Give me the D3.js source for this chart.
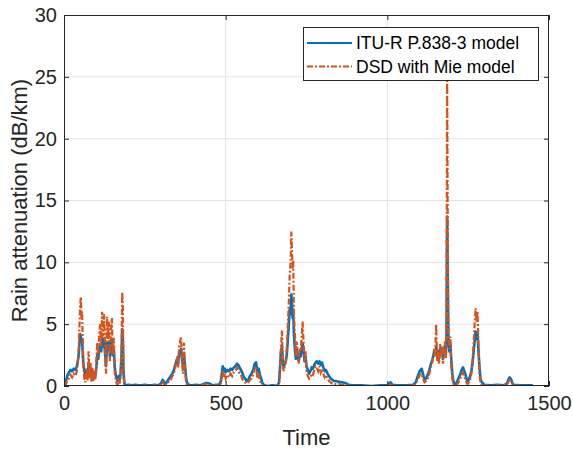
<!DOCTYPE html>
<html>
<head>
<meta charset="utf-8">
<script src="https://cdn.jsdelivr.net/npm/d3@7/dist/d3.min.js"></script>
<style>
  html, body { margin: 0; padding: 0; background: #fff; }
  svg { display: block; font-family: "Liberation Sans", Arial, sans-serif; }
</style>
</head>
<body>
<svg id="chart" width="573" height="451"></svg>
<script>
// ---- Data ----
const xTicks = [0, 500, 1000, 1500];
const yTicks = [0, 5, 10, 15, 20, 25, 30];
const seriesNames = ["ITU-R P.838-3 model", "DSD with Mie model"];

const time = [
  0,5,10,15,20,25,30,35,40,45,48,50,52,54,56,58,60,63,66,70,73,76,79,82,85,88,91,94,97,
  100,103,106,109,112,115,118,121,124,127,130,133,136,139,142,145,148,151,154,157,160,163,166,169,172,175,178,180,182,184,187,190,
  200,210,220,230,240,250,260,270,280,290,300,305,310,315,320,325,330,335,340,345,350,353,356,359,362,365,368,371,374,377,380,385,395,
  410,420,430,440,450,460,470,480,485,488,491,494,497,500,505,510,515,520,525,530,535,539,543,547,551,555,560,565,570,575,580,585,590,594,598,
  602,606,610,614,620,630,645,660,665,668,671,674,677,680,683,686,689,692,695,698,701,703,705,707,709,711,714,717,720,723,726,729,732,735,738,741,744,747,750,754,758,762,766,770,774,778,782,786,790,794,798,
  802,806,810,815,820,825,830,835,840,850,860,870,880,890,920,950,980,1000,1010,1015,1030,1060,1080,1088,1094,
  1100,1106,1110,1115,1120,1125,1130,1135,1140,1145,1148,1151,1154,1157,1160,1163,1166,1169,1172,1175,1178,1181,1183,1185,1187,1189,1192,1195,1198,
  1201,1204,1208,1215,1220,1225,1230,1234,1238,1242,1246,1250,1255,1260,1264,1267,1270,1273,1276,1279,1282,1285,1288,1292,
  1300,1320,1340,1360,1370,1374,1378,1382,1386,1390,1410,1430,1450
];

const ituModel = [
  0,0.3,0.8,1.1,1.3,1.2,1.4,1.3,1.6,2.4,3.5,4.2,4.0,3.6,3.8,2.6,1.8,1.2,0.9,1.3,0.8,1.7,1.0,1.4,0.8,1.2,0.7,1.0,0.8,
  1.5,2.5,2.2,3.0,3.4,2.8,3.9,3.2,3.8,2.6,1.6,3.5,3.0,3.6,2.4,3.2,3.8,2.5,2.9,1.5,0.9,0.6,0.4,0.8,0.5,1.0,2.5,4.6,3.8,1.2,0.2,0.05,
  0.1,0.05,0.1,0.05,0.05,0.1,0.05,0.05,0.1,0.05,0.2,0.5,0.3,0.2,0.4,0.6,0.8,1.0,1.3,1.8,2.2,1.8,2.6,2.8,3.0,2.2,1.5,2.5,1.8,0.8,0.3,0.1,0.05,
  0.1,0.05,0.15,0.25,0.2,0.05,0.1,0.1,0.4,1.0,1.6,1.2,1.4,1.1,1.3,1.2,1.4,1.3,1.5,1.6,1.8,1.7,1.5,1.3,1.1,0.8,0.6,0.4,0.5,0.8,1.0,1.3,1.8,1.9,1.2,
  1.4,0.9,0.6,0.2,0.05,0,0.05,0,0.3,1.5,2.8,3.2,1.8,1.6,1.8,2.0,2.5,3.6,4.8,6.2,5.8,7.4,6.8,5.5,6.0,4.2,3.0,2.2,3.0,2.4,2.0,2.6,2.4,3.0,3.4,2.8,2.0,2.4,1.6,1.3,1.0,1.2,1.5,1.4,1.7,1.9,2.0,1.8,2.0,1.7,1.9,
  1.5,1.2,1.3,1.0,0.8,0.6,0.5,0.4,0.4,0.35,0.3,0.25,0.1,0.05,0.05,0,0.05,0.05,0.3,0.1,0.05,0.05,0.1,0.3,0.8,
  1.2,1.4,1.0,0.5,0.6,0.9,1.3,1.8,2.2,2.8,2.5,3.2,2.4,2.8,2.2,3.0,2.6,3.0,2.2,2.7,3.2,2.6,4.0,13.7,8.0,3.6,2.8,3.4,2.0,
  1.0,0.4,0.1,0.3,0.6,0.9,1.3,1.5,1.2,0.9,0.5,0.4,0.7,1.2,2.0,2.8,3.6,4.4,3.8,4.2,2.8,1.5,0.6,0.3,
  0.1,0.05,0.1,0.05,0.2,0.5,0.7,0.6,0.3,0.1,0.05,0.05,0.05
];

const dsdMie = [
  0,0.1,0.4,0.6,0.9,0.7,1.0,0.8,1.2,2.5,5.0,6.5,7.2,5.5,6.0,3.5,1.5,0.6,0.3,1.4,0.4,2.8,0.6,1.9,0.3,1.5,0.4,1.2,0.5,
  2.0,3.5,2.4,4.2,5.0,3.2,6.0,4.0,5.8,2.5,1.0,5.6,3.8,5.2,2.0,4.5,5.5,2.6,3.9,1.0,0.5,0.2,0.1,0.6,0.2,0.8,3.0,7.6,6.5,0.8,0.05,0,
  0.05,0,0.05,0,0,0.05,0,0,0.05,0,0.1,0.3,0.1,0.1,0.2,0.4,0.5,0.8,1.0,1.6,2.4,1.5,3.2,3.6,4.0,2.0,1.0,3.5,1.6,0.4,0.1,0.05,0,
  0.05,0,0.1,0.15,0.1,0,0.05,0.05,0.2,0.7,1.3,0.7,1.0,0.6,0.9,0.7,1.0,0.8,1.1,1.2,1.5,1.3,1.0,0.9,0.6,0.4,0.3,0.2,0.3,0.5,0.6,0.9,1.4,1.6,0.6,
  1.0,0.4,0.2,0.05,0,0,0,0,0.2,1.0,3.0,4.5,1.5,1.2,1.6,2.0,3.0,4.8,6.5,9.0,10.0,12.5,11.0,9.5,10.2,6.0,4.2,2.4,3.6,2.5,1.8,3.0,2.8,4.0,5.2,3.5,2.0,2.8,1.2,0.8,0.6,0.7,1.0,0.9,1.3,1.6,1.5,1.2,1.6,1.1,1.4,
  1.0,0.7,0.9,0.6,0.4,0.3,0.2,0.2,0.15,0.15,0.1,0.1,0.05,0,0,0,0,0,0.1,0.05,0,0,0.05,0.2,0.5,
  0.9,1.0,0.6,0.3,0.4,0.6,1.0,1.6,2.0,3.0,2.4,5.0,2.0,2.8,1.8,3.4,2.5,3.2,1.8,2.6,3.6,2.2,5.5,25.0,12.0,4.0,3.0,4.0,1.6,
  0.6,0.2,0.05,0.1,0.3,0.6,0.9,1.1,0.8,0.5,0.2,0.2,0.4,1.0,2.2,3.5,5.0,6.3,5.2,6.0,3.2,1.0,0.3,0.1,
  0.05,0,0.05,0,0.1,0.3,0.5,0.4,0.2,0.05,0,0,0
];

// ---- Layout ----
const svg = d3.select("#chart");
const margin = { left: 64, right: 24, top: 15, bottom: 65 };
const W = 573, H = 451;
const x0 = margin.left, x1 = W - margin.right;
const y0 = H - margin.bottom, y1 = margin.top;

const x = d3.scaleLinear().domain([0, 1500]).range([x0, x1]);
const y = d3.scaleLinear().domain([0, 30]).range([y0, y1]);

const axisColor = "#262626";
const gridColor = "#e3e3e3";

// grid
svg.append("g").selectAll("line.gx").data(xTicks.slice(1, -1)).join("line")
  .attr("x1", d => x(d)).attr("x2", d => x(d)).attr("y1", y0).attr("y2", y1)
  .attr("stroke", gridColor).attr("stroke-width", 1);
svg.append("g").selectAll("line.gy").data(yTicks.slice(1, -1)).join("line")
  .attr("y1", d => y(d)).attr("y2", d => y(d)).attr("x1", x0).attr("x2", x1)
  .attr("stroke", gridColor).attr("stroke-width", 1);

// data lines
const pts = (vals) => time.map((t, i) => [t, vals[i]]);
const line = d3.line().x(d => x(d[0])).y(d => y(d[1]));

svg.append("clipPath").attr("id", "clip").append("rect")
  .attr("x", x0).attr("y", y1).attr("width", x1 - x0).attr("height", y0 - y1);

const dashPattern = "6,2,2,2";
const plotG = svg.append("g").attr("clip-path", "url(#clip)");
plotG.append("path").datum(pts(ituModel)).attr("d", line)
  .attr("fill", "none").attr("stroke", "#0072BD").attr("stroke-width", 2.6)
  .attr("stroke-linejoin", "round");
plotG.append("path").datum(pts(dsdMie)).attr("d", line)
  .attr("fill", "none").attr("stroke", "#D95319").attr("stroke-width", 2.2)
  .attr("stroke-dasharray", dashPattern);

// axes (box + ticks inward)
const tickFont = 20;
const xAxis = d3.axisBottom(x).tickValues(xTicks).tickSize(-5).tickPadding(10).tickFormat(d3.format("d"));
const yAxis = d3.axisLeft(y).tickValues(yTicks).tickSize(-5).tickPadding(7).tickFormat(d3.format("d"));
const gx = svg.append("g").attr("transform", `translate(0,${y0})`).call(xAxis);
const gy = svg.append("g").attr("transform", `translate(${x0},0)`).call(yAxis);
[gx, gy].forEach(g => {
  g.select(".domain").remove();
  g.selectAll("line").attr("stroke", axisColor);
  g.selectAll("text").attr("fill", axisColor).style("font-size", tickFont + "px")
    .style("font-family", "'Liberation Sans', Arial, sans-serif");
});
const gxt = svg.append("g").attr("transform", `translate(0,${y1})`).call(d3.axisTop(x).tickValues(xTicks).tickSize(-5).tickFormat(""));
const gyr = svg.append("g").attr("transform", `translate(${x1},0)`).call(d3.axisRight(y).tickValues(yTicks).tickSize(-5).tickFormat(""));
[gxt, gyr].forEach(g => { g.select(".domain").remove(); g.selectAll("line").attr("stroke", axisColor); });

svg.append("rect").attr("x", x0 + 0.5).attr("y", y1 + 0.5)
  .attr("width", x1 - x0 - 1).attr("height", y0 - y1 - 1)
  .attr("fill", "none").attr("stroke", axisColor).attr("stroke-width", 1);

// axis labels
svg.append("text").attr("x", (x0 + x1) / 2).attr("y", 445)
  .attr("text-anchor", "middle").attr("fill", axisColor).style("font-size", "22px").text("Time");
svg.append("text").attr("transform", `translate(27,${(y0 + y1) / 2}) rotate(-90)`)
  .attr("text-anchor", "middle").attr("fill", axisColor).style("font-size", "22px").text("Rain attenuation (dB/km)");

// legend
const lg = svg.append("g");
const lgX = 303, lgY = 27, lgW = 235, lgH = 53;
lg.append("rect").attr("x", lgX + 0.5).attr("y", lgY + 0.5).attr("width", lgW).attr("height", lgH)
  .attr("fill", "#fff").attr("stroke", axisColor).attr("stroke-width", 1);
const legendItems = [
  { name: seriesNames[0], color: "#0072BD", dash: null, w: 2 },
  { name: seriesNames[1], color: "#D95319", dash: dashPattern, w: 2 }
];
legendItems.forEach((it, i) => {
  const cy = lgY + 16 + i * 23.5;
  lg.append("line").attr("x1", lgX + 4).attr("x2", lgX + 49).attr("y1", cy).attr("y2", cy)
    .attr("stroke", it.color).attr("stroke-width", it.w).attr("stroke-dasharray", it.dash);
  lg.append("text").attr("x", lgX + 53).attr("y", cy).attr("dy", "0.35em")
    .attr("fill", "#000").style("font-size", "17.5px").text(it.name);
});
</script>
</body>
</html>
